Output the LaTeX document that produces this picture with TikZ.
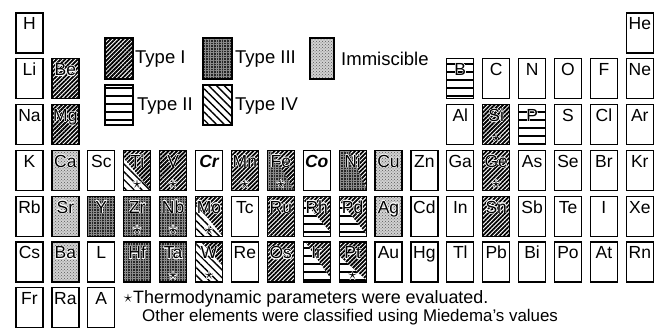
\documentclass[tikz,border=0pt]{standalone}
\usepackage{fontspec}
\setmainfont{Liberation Sans}
\usepackage{contour}
\contourlength{0.42pt}
\usetikzlibrary{patterns,patterns.meta}
\tikzset{
  boxline/.style={draw=black, line width=1.2pt},
  lab/.style={font=\fontsize{17.5}{17.5}\selectfont, inner sep=0pt, anchor=base},
  leg/.style={font=\fontsize{18.5}{20}\selectfont, inner sep=0pt, anchor=west},
  note/.style={inner sep=0pt, anchor=base west},
  starlab/.style={font=\fontsize{18}{18}\selectfont, inner sep=0pt},
  nofill/.style={},
  tI/.style={pattern={Lines[angle=45,distance=3pt,line width=1.8pt]}, pattern color=black},
  tII/.style={pattern={Lines[angle=0,distance=8pt,line width=1.5pt]}, pattern color=black},
  tIII/.style={fill=black!85, postaction={pattern={Hatch[angle=0,distance=2.6pt,line width=0.45pt]}, pattern color=black!45}},
  tIV/.style={pattern={Lines[angle=-45,distance=5.5pt,line width=1.4pt]}, pattern color=black},
  tIm/.style={fill=black!18, postaction={pattern=crosshatch dots, pattern color=black!65}},
}
\newcommand\cellbox[5]{%
  \path[#5] ({16+35.9*#1},{13+45.8*#2}) rectangle ++(27,40);
  \draw[boxline] ({16+35.9*#1},{13+45.8*#2}) rectangle ++(27,40);
  \node[lab] (#3) at ({16+35.9*#1+13.5},{13+45.8*#2+17}) {#4};}
\newcommand\cstar[3]{%
  \node[starlab] (#3) at ({16+35.9*#1+13.5},{13+45.8*#2+34}) {\contourlength{0.3pt}\contour{white}{$\star$}};}
\newcommand\splitcell[9]{%
  \begin{scope}[shift={({16+35.9*#1},{13+45.8*#2})}]
    \path[tI] (0,0) rectangle (27,40);
    \fill[white] (#6,#7) -- (#8,#9) -- (27,40) -- (0,40) -- (0,0) -- cycle;
    \path[#5] (#6,#7) -- (#8,#9) -- (27,40) -- (0,40) -- (0,0) -- cycle;
    \draw[boxline] (0,0) rectangle (27,40);
    \node[lab] (#3) at (13.5,17) {\contour{white}{#4}};
  \end{scope}}
\newcommand\pc[1]{\contour{white}{#1}}
\begin{document}
\begin{tikzpicture}[x=1pt,y=-1pt]
\useasboundingbox (0,0) rectangle (657,328);
% legend
\path[tI] (105,38) rectangle (133,79); \draw[boxline] (105,38) rectangle (133,79);
\node[leg] (legI) at (135,59) {Type I};
\path[tIII] (203,38) rectangle (232,79); \draw[boxline] (203,38) rectangle (232,79);
\node[leg] (legIII) at (235,59) {Type III};
\path[tIm] (310,38) rectangle (334,79); \draw[boxline] (310,38) rectangle (334,79);
\node[leg] (legIm) at (341,59) {Immiscible};
\path[tII] (105,85) rectangle (133,125); \draw[boxline] (105,85) rectangle (133,125);
\node[leg] (legII) at (137,106) {Type II};
\path[tIV] (203,85) rectangle (232,125); \draw[boxline] (203,85) rectangle (232,125);
\node[leg] (legIV) at (235,106) {Type IV};
% row 0
\cellbox{0}{0}{H}{H}{nofill}
\cellbox{17}{0}{He}{He}{nofill}
% row 1
\cellbox{0}{1}{Li}{Li}{nofill}
\cellbox{1}{1}{Be}{\pc{Be}}{tI}
\cellbox{12}{1}{B}{\pc{B}}{tII}
\cellbox{13}{1}{C}{C}{nofill}
\cellbox{14}{1}{N}{N}{nofill}
\cellbox{15}{1}{O}{O}{nofill}
\cellbox{16}{1}{F}{F}{nofill}
\cellbox{17}{1}{Ne}{Ne}{nofill}
% row 2
\cellbox{0}{2}{Na}{Na}{nofill}
\cellbox{1}{2}{Mg}{\pc{Mg}}{tI}
\cellbox{12}{2}{Al}{Al}{nofill}
\cellbox{13}{2}{Si}{\pc{Si}}{tI}\cstar{13}{2}{sSi}
\cellbox{14}{2}{P}{\pc{P}}{tII}
\cellbox{15}{2}{S}{S}{nofill}
\cellbox{16}{2}{Cl}{Cl}{nofill}
\cellbox{17}{2}{Ar}{Ar}{nofill}
% row 3
\cellbox{0}{3}{K}{K}{nofill}
\cellbox{1}{3}{Ca}{\pc{Ca}}{tIm}
\cellbox{2}{3}{Sc}{Sc}{nofill}
\splitcell{3}{3}{Ti}{Ti}{tIV}{0}{8}{27}{40}\cstar{3}{3}{sTi}
\cellbox{4}{3}{V}{\pc{V}}{tI}\cstar{4}{3}{sV}
\cellbox{5}{3}{Cr}{\bfseries\itshape Cr}{nofill}
\cellbox{6}{3}{Mn}{\pc{Mn}}{tI}\cstar{6}{3}{sMn}
\splitcell{7}{3}{Fe}{Fe}{tIII}{3}{0}{27}{40}\cstar{7}{3}{sFe}
\cellbox{8}{3}{Co}{\bfseries\itshape Co}{nofill}
\splitcell{9}{3}{Ni}{Ni}{tIII}{10}{0}{27}{38}
\cellbox{10}{3}{Cu}{\pc{Cu}}{tIm}
\cellbox{11}{3}{Zn}{Zn}{nofill}
\cellbox{12}{3}{Ga}{Ga}{nofill}
\cellbox{13}{3}{Ge}{\pc{Ge}}{tI}\cstar{13}{3}{sGe}
\cellbox{14}{3}{As}{As}{nofill}
\cellbox{15}{3}{Se}{Se}{nofill}
\cellbox{16}{3}{Br}{Br}{nofill}
\cellbox{17}{3}{Kr}{Kr}{nofill}
% row 4
\cellbox{0}{4}{Rb}{Rb}{nofill}
\cellbox{1}{4}{Sr}{\pc{Sr}}{tIm}
\cellbox{2}{4}{Y}{\pc{Y}}{tIII}
\cellbox{3}{4}{Zr}{\pc{Zr}}{tIII}\cstar{3}{4}{sZr}
\cellbox{4}{4}{Nb}{\pc{Nb}}{tIII}\cstar{4}{4}{sNb}
\splitcell{5}{4}{Mo}{Mo}{tIV}{0}{7}{27}{40}\cstar{5}{4}{sMo}
\cellbox{6}{4}{Tc}{Tc}{nofill}
\cellbox{7}{4}{Ru}{\pc{Ru}}{tI}
\splitcell{8}{4}{Rh}{Rh}{tII}{0}{4}{27}{36}
\splitcell{9}{4}{Pd}{Pd}{tII}{0}{4}{27}{38}
\cellbox{10}{4}{Ag}{\pc{Ag}}{tIm}
\cellbox{11}{4}{Cd}{Cd}{nofill}
\cellbox{12}{4}{In}{In}{nofill}
\cellbox{13}{4}{Sn}{\pc{Sn}}{tI}
\cellbox{14}{4}{Sb}{Sb}{nofill}
\cellbox{15}{4}{Te}{Te}{nofill}
\cellbox{16}{4}{I}{I}{nofill}
\cellbox{17}{4}{Xe}{Xe}{nofill}
% row 5
\cellbox{0}{5}{Cs}{Cs}{nofill}
\cellbox{1}{5}{Ba}{\pc{Ba}}{tIm}
\cellbox{2}{5}{L}{L}{nofill}
\cellbox{3}{5}{Hf}{\pc{Hf}}{tIII}
\cellbox{4}{5}{Ta}{\pc{Ta}}{tIII}\cstar{4}{5}{sTa}
\splitcell{5}{5}{W}{W}{tIV}{6}{0}{27}{24}\cstar{5}{5}{sW}
\cellbox{6}{5}{Re}{Re}{nofill}
\cellbox{7}{5}{Os}{\pc{Os}}{tI}
\splitcell{8}{5}{Ir}{Ir}{tII}{2}{0}{27}{36}
\splitcell{9}{5}{Pt}{Pt}{tII}{0}{14}{27}{38}\cstar{9}{5}{sPt}
\cellbox{10}{5}{Au}{Au}{nofill}
\cellbox{11}{5}{Hg}{Hg}{nofill}
\cellbox{12}{5}{Tl}{Tl}{nofill}
\cellbox{13}{5}{Pb}{Pb}{nofill}
\cellbox{14}{5}{Bi}{Bi}{nofill}
\cellbox{15}{5}{Po}{Po}{nofill}
\cellbox{16}{5}{At}{At}{nofill}
\cellbox{17}{5}{Rn}{Rn}{nofill}
% row 6
\cellbox{0}{6}{Fr}{Fr}{nofill}
\cellbox{1}{6}{Ra}{Ra}{nofill}
\cellbox{2}{6}{A}{A}{nofill}
% footnote
\node[starlab] (nstar) at (128,298) {$\star$};
\node[note, font=\fontsize{17.9}{19}\selectfont] (n1) at (133,304) {Thermodynamic parameters were evaluated.};
\node[note, font=\fontsize{16.9}{19}\selectfont] (n2) at (142,321.5) {Other elements were classified using Miedema's values};
\end{tikzpicture}
\end{document}
